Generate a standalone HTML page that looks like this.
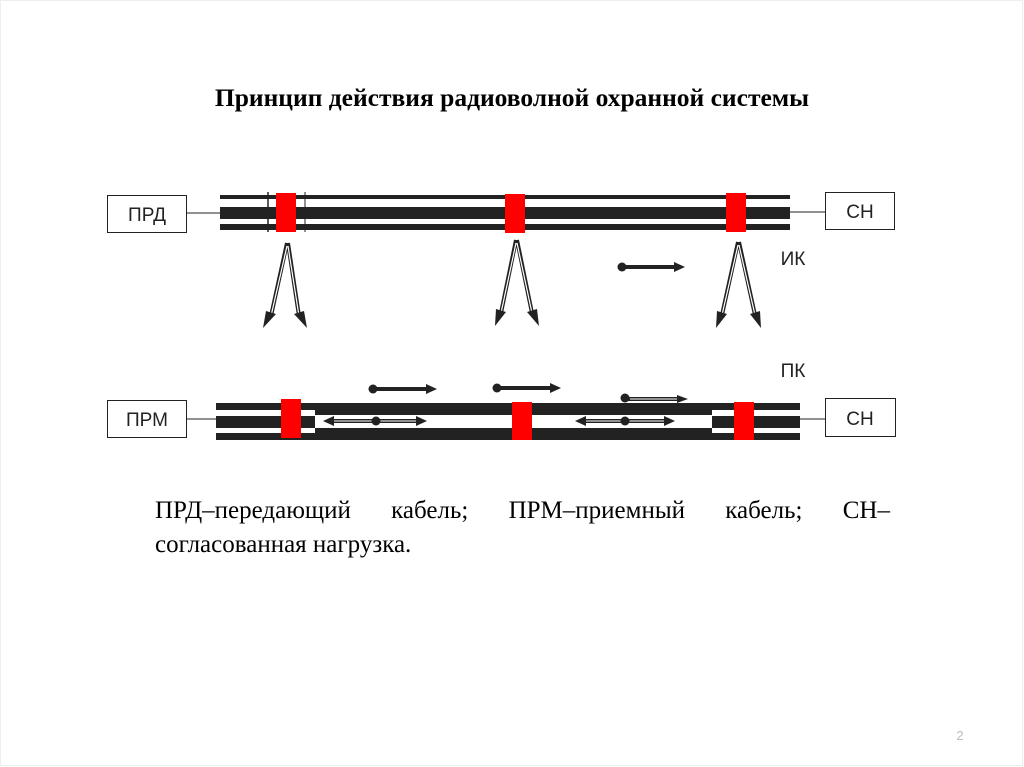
<!DOCTYPE html>
<html><head><meta charset="utf-8"><style>
body{margin:0;background:#fff;}
.wrap{position:relative;width:1024px;height:767px;overflow:hidden;background:#fff;}
svg{position:absolute;left:0;top:0;}
.t{position:absolute;left:0;width:1024px;top:83px;text-align:center;font:bold 25.5px "Liberation Serif",serif;}
.p{position:absolute;left:155px;width:735px;top:494px;font:25px/34px "Liberation Serif",serif;}
.l1{white-space:nowrap;display:flex;justify-content:space-between;}
</style></head><body><div class="wrap">
<div class="t">Принцип действия радиоволной охранной системы</div>
<svg width="1024" height="767" font-family="Liberation Sans, DejaVu Sans, sans-serif">
<rect x="0.5" y="0.5" width="1022" height="765" fill="none" stroke="#eee"/>
<rect x="220" y="195" width="570" height="4" fill="#222"/>
<rect x="220" y="207" width="570" height="12" fill="#222"/>
<rect x="220" y="224" width="570" height="6" fill="#222"/>
<line x1="268" y1="192" x2="268" y2="232" stroke="#222" stroke-width="1.5"/>
<line x1="305" y1="192" x2="305" y2="232" stroke="#222" stroke-width="1"/>
<rect x="276" y="193" width="20" height="39" fill="#f00"/>
<rect x="505" y="194" width="20" height="39" fill="#f00"/>
<rect x="726" y="193" width="20" height="39" fill="#f00"/>
<rect x="216" y="403" width="584" height="7" fill="#222"/>
<rect x="216" y="416" width="584" height="12" fill="#222"/>
<rect x="216" y="433" width="584" height="7" fill="#222"/>
<rect x="315" y="403" width="397" height="12" fill="#222"/>
<rect x="315" y="415" width="397" height="13" fill="#fff"/>
<rect x="315" y="428" width="397" height="12" fill="#222"/>
<rect x="281" y="399" width="20" height="39" fill="#f00"/>
<rect x="512" y="402" width="20" height="38" fill="#f00"/>
<rect x="734" y="402" width="20" height="38" fill="#f00"/>
<g fill="#fff" stroke="#222" stroke-width="1">
<rect x="107.5" y="195.5" width="79" height="37"/>
<rect x="825.5" y="192.5" width="69" height="37"/>
<rect x="107.5" y="400.5" width="79" height="37"/>
<rect x="825.5" y="398.5" width="70" height="38"/>
</g>
<g stroke="#222" stroke-width="1">
<line x1="187" y1="213" x2="220" y2="213"/><line x1="790" y1="212" x2="825" y2="212"/>
<line x1="187" y1="419" x2="216" y2="419"/><line x1="800" y1="419" x2="825" y2="419"/>
</g>
<g font-size="19" fill="#222" text-anchor="middle">
<text x="147" y="221">ПРД</text><text x="860" y="218">СН</text>
<text x="147" y="426">ПРМ</text><text x="860" y="425">СН</text>
<text x="793" y="265">ИК</text><text x="793" y="377">ПК</text>
</g>
<g stroke="#222" stroke-width="4" fill="none">
<path d="M287,243 L271,316 M288,243 L299,316 M516,240 L501,313 M517,240 L532,313 M738,242 L722,315 M739,242 L755,315"/>
</g>
<g stroke="#fff" stroke-width="1.2" fill="none">
<path d="M287,246 L271,316 M288,246 L299,316 M516,243 L501,313 M517,243 L532,313 M738,245 L722,315 M739,245 L755,315"/>
</g>
<g fill="#222">
<path d="M263,328 L266,311 L276,314z"/><path d="M307,328 L294,314 L304,311z"/>
<path d="M495,326 L496,309 L506,312z"/><path d="M539,326 L527,312 L537,309z"/>
<path d="M716,328 L717,311 L727,314z"/><path d="M761,328 L750,314 L760,311z"/>
</g>
<g stroke="#222" stroke-width="4">
<line x1="622" y1="267" x2="676" y2="267"/>
<line x1="373" y1="389" x2="428" y2="389"/>
<line x1="497" y1="388" x2="551" y2="388"/>
<line x1="625" y1="399" x2="678" y2="399"/>
</g>
<line x1="630" y1="399" x2="678" y2="399" stroke="#fff" stroke-width="1"/>
<g fill="#222">
<circle cx="622" cy="267" r="4.5"/><path d="M685,267 L674,262 L674,272z"/>
<circle cx="373" cy="389" r="4.5"/><path d="M437,389 L426,384 L426,394z"/>
<circle cx="497" cy="388" r="4.5"/><path d="M561,388 L550,383 L550,393z"/>
<circle cx="625" cy="398" r="4.5"/><path d="M688,399 L677,395 L677,403z"/>
</g>
<g stroke="#222" stroke-width="4"><line x1="332" y1="421" x2="418" y2="421"/><line x1="584" y1="421" x2="666" y2="421"/></g>
<g stroke="#fff" stroke-width="1"><line x1="334" y1="421" x2="416" y2="421"/><line x1="586" y1="421" x2="664" y2="421"/></g>
<g fill="#222">
<path d="M323,421 L334,416 L334,426z"/><path d="M427,421 L416,416 L416,426z"/><circle cx="376" cy="421" r="4.5"/>
<path d="M575,421 L586,416 L586,426z"/><path d="M675,421 L664,416 L664,426z"/><circle cx="625" cy="421" r="4.5"/>
</g>
<text x="960" y="740" font-size="13" fill="#bbb" text-anchor="middle">2</text>
</svg>
<div class="p"><div class="l1"><span>ПРД–передающий</span><span>кабель;</span><span>ПРМ–приемный</span><span>кабель;</span><span>СН–</span></div><div>согласованная нагрузка.</div></div>
</div></body></html>
